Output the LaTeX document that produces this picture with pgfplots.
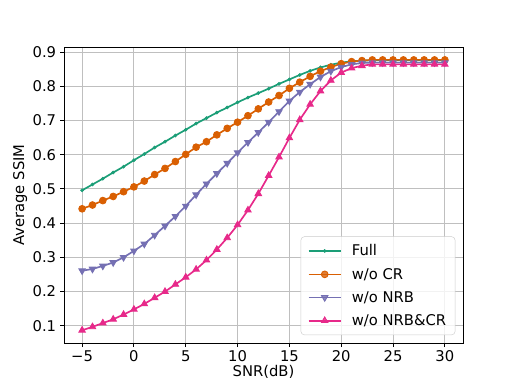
\documentclass[border=0pt]{standalone}
\usepackage{fontspec}
\setmainfont{DejaVu Sans}
\usepackage{pgfplots}
\pgfplotsset{compat=1.18}

\definecolor{cFull}{HTML}{1B9E77}
\definecolor{cCR}{HTML}{D95F02}
\definecolor{cNRB}{HTML}{7570B3}
\definecolor{cBoth}{HTML}{E7298A}
\newcommand\mplfont{\fontsize{13.2pt}{15pt}\selectfont}

\begin{document}
\begin{tikzpicture}
\path[use as bounding box] (-57.2pt,-38.4pt) rectangle (403.3pt,306.8pt);
\begin{axis}[
    scale only axis, width=356.8pt, height=264.7pt,
    xmin=-6.75, xmax=31.75, ymin=0.0495, ymax=0.9145,
    xtick={-5,0,5,10,15,20,25,30},
    xticklabels={−5,0,5,10,15,20,25,30},
    ytick={0.1,0.2,0.3,0.4,0.5,0.6,0.7,0.8,0.9},
    yticklabels={0.1,0.2,0.3,0.4,0.5,0.6,0.7,0.8,0.9},
    tick align=outside, xtick pos=bottom, ytick pos=left,
    major tick length=3.5pt,
    every tick/.style={black, line width=0.8pt},
    axis line style={line width=0.8pt},
    grid=major, grid style={line width=0.8pt, color=black!25},
    tick label style={font=\mplfont},
    label style={font=\mplfont},
    xlabel={SNR(dB)}, ylabel={Average SSIM},
    xlabel style={yshift=4pt},
    ylabel style={yshift=-2pt},
    legend style={at={(1,0)}, anchor=south east, xshift=-6.9pt, yshift=7.2pt,
        draw=black!20, rounded corners=3pt, fill=white, fill opacity=0.8,
        text opacity=1, font=\mplfont, row sep=5.5pt, column sep=7pt,
        inner xsep=6pt, inner ysep=5pt},
    legend cell align=left,
    legend image code/.code={\draw[mark repeat=2,mark phase=2,#1]
        plot coordinates {(0pt,0pt) (14.5pt,0pt) (29pt,0pt)};},
]
\addplot[cFull, line width=1.5pt, mark=*, mark size=1.4pt, mark options={solid, fill=cFull, line width=0.5pt}] coordinates {
(-5,0.496)(-4,0.513)(-3,0.530)(-2,0.548)(-1,0.565)(0,0.584)(1,0.602)(2,0.621)
(3,0.638)(4,0.656)(5,0.673)(6,0.691)(7,0.707)(8,0.723)(9,0.738)(10,0.753)
(11,0.767)(12,0.780)(13,0.793)(14,0.807)(15,0.820)(16,0.833)(17,0.845)(18,0.855)
(19,0.863)(20,0.869)(21,0.873)(22,0.875)(23,0.876)(24,0.876)(25,0.876)(26,0.876)
(27,0.876)(28,0.876)(29,0.876)(30,0.876)};
\addlegendentry{Full}
\addplot[cCR, line width=1.5pt, mark=*, mark size=3pt, mark options={solid, fill=cCR, line width=0.8pt}] coordinates {
(-5,0.442)(-4,0.453)(-3,0.466)(-2,0.478)(-1,0.492)(0,0.506)(1,0.523)(2,0.542)
(3,0.560)(4,0.580)(5,0.601)(6,0.622)(7,0.638)(8,0.658)(9,0.677)(10,0.695)
(11,0.714)(12,0.734)(13,0.754)(14,0.773)(15,0.794)(16,0.812)(17,0.829)(18,0.844)
(19,0.856)(20,0.866)(21,0.872)(22,0.875)(23,0.877)(24,0.877)(25,0.877)(26,0.877)
(27,0.877)(28,0.877)(29,0.877)(30,0.877)};
\addlegendentry{w/o CR}
\addplot[cNRB, line width=1.5pt, mark=triangle*, mark size=3.3pt, mark options={solid, fill=cNRB, rotate=180, line width=0.8pt}] coordinates {
(-5,0.261)(-4,0.266)(-3,0.275)(-2,0.285)(-1,0.300)(0,0.319)(1,0.339)(2,0.365)
(3,0.392)(4,0.420)(5,0.450)(6,0.483)(7,0.515)(8,0.545)(9,0.575)(10,0.606)
(11,0.636)(12,0.665)(13,0.695)(14,0.726)(15,0.757)(16,0.783)(17,0.806)(18,0.827)
(19,0.844)(20,0.856)(21,0.864)(22,0.868)(23,0.869)(24,0.869)(25,0.869)(26,0.869)
(27,0.869)(28,0.869)(29,0.869)(30,0.869)};
\addlegendentry{w/o NRB}
\addplot[cBoth, line width=1.5pt, mark=triangle*, mark size=3.3pt, mark options={solid, fill=cBoth, line width=0.8pt}] coordinates {
(-5,0.087)(-4,0.097)(-3,0.108)(-2,0.119)(-1,0.133)(0,0.148)(1,0.164)(2,0.182)
(3,0.200)(4,0.221)(5,0.242)(6,0.265)(7,0.292)(8,0.323)(9,0.357)(10,0.395)
(11,0.438)(12,0.486)(13,0.539)(14,0.593)(15,0.649)(16,0.702)(17,0.747)(18,0.786)
(19,0.817)(20,0.840)(21,0.853)(22,0.860)(23,0.864)(24,0.864)(25,0.864)(26,0.864)
(27,0.864)(28,0.864)(29,0.864)(30,0.864)};
\addlegendentry{w/o NRB\&CR}
\end{axis}
\end{tikzpicture}
\end{document}
